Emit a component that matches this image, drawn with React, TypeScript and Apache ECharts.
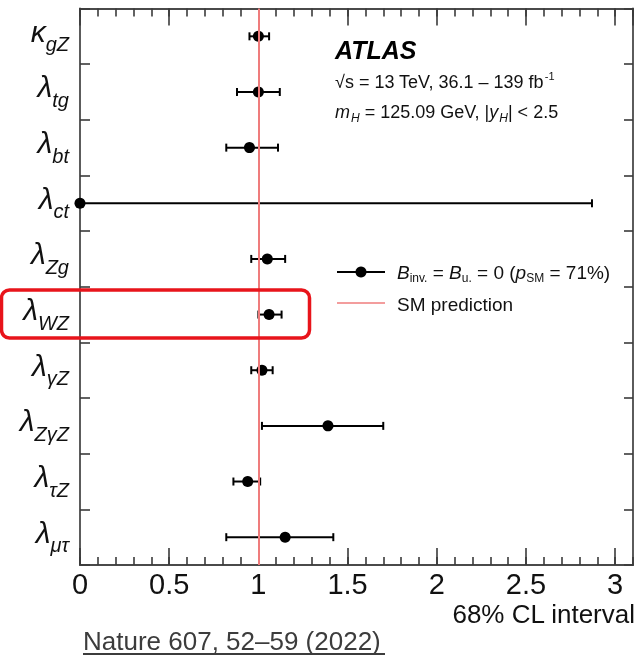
import React, { useEffect, useRef } from "react";
import * as echarts from "echarts";

// Coupling-ratio fit results, top row first
const couplingSymbols = ["κ", "λ", "λ", "λ", "λ", "λ", "λ", "λ", "λ", "λ"];
const couplingSubscripts = ["gZ", "tg", "bt", "ct", "Zg", "WZ", "γZ", "ZγZ", "τZ", "μτ"];
const bestFit = [1.0, 1.0, 0.95, 0.0, 1.05, 1.06, 1.02, 1.39, 0.94, 1.15];
const lowerEdge = [0.95, 0.88, 0.82, 0.0, 0.96, 1.0, 0.96, 1.02, 0.86, 0.82];
const upperEdge = [1.06, 1.12, 1.11, 2.87, 1.15, 1.13, 1.08, 1.7, 1.01, 1.42];
const smPrediction = 1;
const xMin = 0;
const xMax = 3.1;
const majorStep = 0.5;
const minorStep = 0.1;

const FONT = "'Liberation Sans', Arial, Helvetica, sans-serif";
const AXIS_COLOR = "#4a4a4a";
const TICK_COLOR = "#3a3a3a";
const SM_COLOR = "#ef7c7c";

const categories = couplingSubscripts.map((s, i) => couplingSymbols[i] + s);

export default function App() {
  const ref = useRef<HTMLDivElement>(null);

  useEffect(() => {
    if (!ref.current) return;
    const chart = echarts.init(ref.current, undefined, { renderer: "svg" });

    const frameLine = { show: true, onZero: false, lineStyle: { color: AXIS_COLOR, width: 1.8 } };
    const tickStyle = { color: TICK_COLOR, width: 1.6 };
    const gridBox = { left: 80, right: 7, top: 8.5, bottom: 91, containLabel: false };

    // grid 0 carries the long ticks and labels, grid 1 (same box) the short ticks
    const xAxisFor = (
      gridIndex: number,
      position: "top" | "bottom",
      step: number,
      tickLength: number,
      labels: boolean
    ) => ({
      type: "value",
      gridIndex,
      position,
      min: xMin,
      max: xMax,
      interval: step,
      axisLine: frameLine,
      axisTick: { show: true, inside: true, length: tickLength, lineStyle: tickStyle },
      axisLabel: labels
        ? { show: true, showMaxLabel: false, margin: 4, fontSize: 29, fontFamily: FONT, color: "#111" }
        : { show: false },
      splitLine: { show: false },
    });

    const errorData = categories.map((_, i) => [i, lowerEdge[i], upperEdge[i]]);
    const pointData = categories.map((_, i) => [bestFit[i], i]);

    chart.setOption({
      animation: false,
      grid: [gridBox, gridBox],
      xAxis: [
        xAxisFor(0, "bottom", majorStep, 17, true),
        xAxisFor(0, "top", majorStep, 17, false),
        xAxisFor(1, "bottom", minorStep, 8, false),
        xAxisFor(1, "top", minorStep, 8, false),
      ],
      yAxis: [
        {
          type: "category",
          gridIndex: 0,
          data: categories,
          inverse: true,
          position: "left",
          axisLine: frameLine,
          axisTick: { show: true, inside: true, length: 10, lineStyle: tickStyle },
          axisLabel: {
            margin: 11,
            formatter: (_v: string, i: number) => `{g|${couplingSymbols[i]}}{s|${couplingSubscripts[i]}}`,
            rich: {
              g: { fontSize: 30, fontStyle: "italic", fontFamily: FONT, color: "#111", padding: [0, 0, 10, 0] },
              s: { fontSize: 20, fontStyle: "italic", fontFamily: FONT, color: "#111", padding: [16, 0, 0, 0] },
            },
          },
        },
        {
          type: "category",
          gridIndex: 0,
          data: categories,
          inverse: true,
          position: "right",
          axisLine: frameLine,
          axisTick: { show: true, inside: true, length: 9, lineStyle: tickStyle },
          axisLabel: { show: false },
        },
        {
          type: "category",
          gridIndex: 1,
          data: categories,
          inverse: true,
          axisLine: { show: false },
          axisTick: { show: false },
          axisLabel: { show: false },
        },
      ],
      series: [
        {
          name: "SM prediction",
          type: "line",
          xAxisIndex: 0,
          yAxisIndex: 0,
          data: [],
          z: 1,
          markLine: {
            silent: true,
            symbol: "none",
            label: { show: false },
            lineStyle: { color: SM_COLOR, width: 2, type: "solid" },
            data: [{ xAxis: smPrediction }],
          },
        },
        {
          type: "custom",
          xAxisIndex: 0,
          yAxisIndex: 0,
          z: 2,
          data: errorData,
          encode: { x: [1, 2], y: 0 },
          renderItem: (_params: any, api: any) => {
            const idx = api.value(0);
            const lo = api.coord([api.value(1), idx]);
            const hi = api.coord([api.value(2), idx]);
            const cap = 4;
            const style = { stroke: "#000", lineWidth: 2 };
            return {
              type: "group",
              children: [
                { type: "line", shape: { x1: lo[0], y1: lo[1], x2: hi[0], y2: hi[1] }, style },
                { type: "line", shape: { x1: lo[0], y1: lo[1] - cap, x2: lo[0], y2: lo[1] + cap }, style },
                { type: "line", shape: { x1: hi[0], y1: hi[1] - cap, x2: hi[0], y2: hi[1] + cap }, style },
              ],
            };
          },
        },
        {
          type: "scatter",
          xAxisIndex: 0,
          yAxisIndex: 0,
          z: 3,
          clip: false,
          symbol: "circle",
          symbolSize: 11,
          itemStyle: { color: "#000", opacity: 1 },
          data: pointData,
        },
        {
          // keeps the tick-only grid populated
          type: "scatter",
          xAxisIndex: 2,
          yAxisIndex: 2,
          silent: true,
          symbolSize: 0,
          data: [[smPrediction, 0]],
        },
      ],
      graphic: [
        {
          type: "text",
          x: 335,
          y: 50,
          style: {
            text: "ATLAS",
            fontSize: 25,
            fontWeight: "bold",
            fontStyle: "italic",
            fontFamily: FONT,
            fill: "#000",
            verticalAlign: "middle",
            textVerticalAlign: "middle",
          },
        },
        {
          type: "text",
          x: 335,
          y: 82,
          style: {
            text: "{n|√s = 13 TeV, 36.1 – 139 fb}{sup|-1}",
            verticalAlign: "middle",
            textVerticalAlign: "middle",
            rich: {
              n: { fontSize: 18, fontFamily: FONT, fill: "#111", color: "#111" },
              sup: { fontSize: 11, fontFamily: FONT, fill: "#111", color: "#111", padding: [0, 0, 12, 1] },
            },
          },
        },
        {
          type: "text",
          x: 335,
          y: 112,
          style: {
            text: "{i|m}{sub|H}{n| = 125.09 GeV, |}{i|y}{sub|H}{n|| < 2.5}",
            verticalAlign: "middle",
            textVerticalAlign: "middle",
            rich: {
              n: { fontSize: 18, fontFamily: FONT, fill: "#111", color: "#111" },
              i: { fontSize: 18, fontStyle: "italic", fontFamily: FONT, fill: "#111", color: "#111" },
              sub: { fontSize: 12, fontStyle: "italic", fontFamily: FONT, fill: "#111", color: "#111", padding: [12, 0, 0, 1] },
            },
          },
        },
        // legend
        { type: "line", shape: { x1: 337, y1: 272, x2: 385, y2: 272 }, style: { stroke: "#000", lineWidth: 2 } },
        { type: "circle", shape: { cx: 361, cy: 272, r: 5.5 }, style: { fill: "#000" } },
        {
          type: "text",
          x: 397,
          y: 272,
          style: {
            text: "{i|B}{sub|inv.}{n| = }{i|B}{sub|u.}{n| = 0 (}{i|p}{sub|SM}{n| = 71%)}",
            verticalAlign: "middle",
            textVerticalAlign: "middle",
            rich: {
              n: { fontSize: 19, fontFamily: FONT, fill: "#111", color: "#111" },
              i: { fontSize: 19, fontStyle: "italic", fontFamily: FONT, fill: "#111", color: "#111" },
              sub: { fontSize: 12, fontFamily: FONT, fill: "#111", color: "#111", padding: [12, 0, 0, 0] },
            },
          },
        },
        { type: "line", shape: { x1: 337, y1: 303, x2: 385, y2: 303 }, style: { stroke: SM_COLOR, lineWidth: 1.5 } },
        {
          type: "text",
          x: 397,
          y: 304,
          style: {
            text: "SM prediction",
            fontSize: 19,
            fontFamily: FONT,
            fill: "#111",
            verticalAlign: "middle",
            textVerticalAlign: "middle",
          },
        },
        // axis title
        {
          type: "text",
          x: 635,
          y: 614,
          style: {
            text: "68% CL interval",
            fontSize: 26,
            fontFamily: FONT,
            fill: "#111",
            align: "right",
            textAlign: "right",
            verticalAlign: "middle",
            textVerticalAlign: "middle",
          },
        },
        // highlight box around the λWZ row
        {
          type: "rect",
          z: 100,
          shape: { x: 1.5, y: 290, width: 308, height: 48, r: 8 },
          style: { fill: "none", stroke: "#e8141b", lineWidth: 3.5 },
        },
        // citation
        {
          type: "text",
          x: 83,
          y: 641,
          style: {
            text: "Nature 607, 52–59 (2022)",
            fontSize: 26,
            fontFamily: FONT,
            fill: "#3c3c3c",
            verticalAlign: "middle",
            textVerticalAlign: "middle",
          },
        },
        { type: "line", shape: { x1: 83, y1: 654, x2: 385, y2: 654 }, style: { stroke: "#3c3c3c", lineWidth: 2 } },
      ],
    });

    return () => chart.dispose();
  }, []);

  return <div ref={ref} style={{ position: "fixed", left: 0, top: 0, width: 640, height: 656 }} />;
}
